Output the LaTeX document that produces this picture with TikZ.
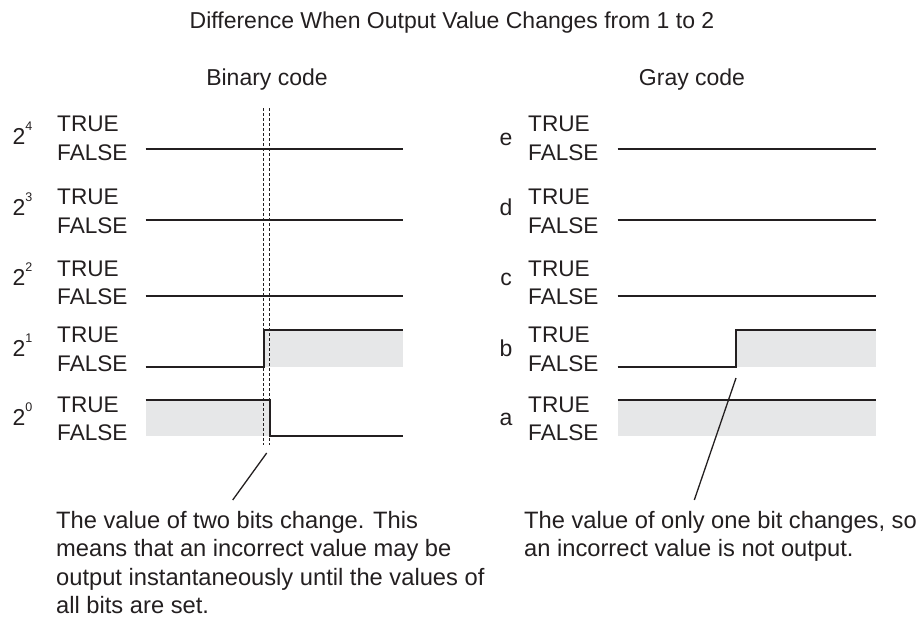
\documentclass[tikz,border=0pt]{standalone}
\usepackage{fontspec}
\setmainfont{Liberation Sans}
\definecolor{ink}{HTML}{231F20}
\definecolor{lgray}{HTML}{E6E7E8}
\newcommand{\supx}[1]{\raisebox{0.6em}{\fontsize{12.5}{12.5}\selectfont #1}}
\begin{document}
\begin{tikzpicture}[x=1pt,y=-1pt,
  sig/.style={line width=1.7pt, draw=ink, line join=miter},
  dashline/.style={line width=1.3pt, draw=ink, dash pattern=on 3pt off 2pt},
  pointer/.style={line width=1.3pt, draw=ink},
  tf/.style={anchor=base west, inner sep=0pt, font=\fontsize{22.6}{22.6}\selectfont, text=ink},
  rowlbl/.style={anchor=base, inner sep=0pt, font=\fontsize{23}{23}\selectfont, text=ink},
  captxt/.style={anchor=base west, inner sep=0pt, font=\fontsize{23.7}{23.7}\selectfont, text=ink},
  head/.style={anchor=base, inner sep=0pt, font=\fontsize{23}{23}\selectfont, text=ink}]
\useasboundingbox (0,0) rectangle (921,618);

% titles
\node[head] (title) at (452,28.3) {Difference When Output Value Changes from 1 to 2};
\node[head] (bin) at (267,85) {Binary code};
\node[head] (gray) at (692,85) {Gray code};

% ---------- Binary code ----------
\node[rowlbl, anchor=base west] (b4) at (12.5,144.5) {2\supx{4}};
\node[rowlbl, anchor=base west] (b3) at (12.5,215) {2\supx{3}};
\node[rowlbl, anchor=base west] (b2) at (12.5,285) {2\supx{2}};
\node[rowlbl, anchor=base west] (b1) at (12.5,356) {2\supx{1}};
\node[rowlbl, anchor=base west] (b0) at (12.5,425) {2\supx{0}};

\node[tf] (bt4) at (57,131) {TRUE};    \node[tf] (bf4) at (57,160) {FALSE};
\node[tf] (bt3) at (57,204)   {TRUE};  \node[tf] (bf3) at (57,233) {FALSE};
\node[tf] (bt2) at (57,276)   {TRUE};  \node[tf] (bf2) at (57,304) {FALSE};
\node[tf] (bt1) at (57,342.7) {TRUE};  \node[tf] (bf1) at (57,371.7) {FALSE};
\node[tf] (bt0) at (57,412.7) {TRUE};  \node[tf] (bf0) at (57,440) {FALSE};

\fill[lgray] (264.3,330) rectangle (403.3,366.7);
\fill[lgray] (145.7,400) rectangle (269.7,435.7);

\draw[sig] (145.7,149.3) -- (403.3,149.3);
\draw[sig] (145.7,220) -- (403.3,220);
\draw[sig] (145.7,295.7) -- (403.3,295.7);
\draw[sig] (145.7,366.7) -- (264.3,366.7) -- (264.3,330) -- (403.3,330);
\draw[sig] (145.7,400) -- (269.7,400) -- (269.7,435.7) -- (403.3,435.7);

\coordinate (d1t) at (263.7,108); \coordinate (d1b) at (263.7,445);
\coordinate (d2t) at (269.3,108); \coordinate (d2b) at (269.3,445);
\draw[dashline] (d1t) -- (d1b);
\draw[dashline] (d2t) -- (d2b);

\coordinate (pl1) at (266.7,453); \coordinate (pl2) at (232.7,500);
\draw[pointer] (pl1) -- (pl2);

\node[captxt] (c1) at (56,528.3) {The value of two bits change. This};
\node[captxt] (c2) at (56,556.8) {means that an incorrect value may be};
\node[captxt] (c3) at (56,585.3) {output instantaneously until the values of};
\node[captxt] (c4) at (56,613.8) {all bits are set.};

% ---------- Gray code ----------
\node[rowlbl] (ge) at (506,145) {e};
\node[rowlbl] (gd) at (506,215) {d};
\node[rowlbl] (gc) at (506,285) {c};
\node[rowlbl] (gb) at (506,356) {b};
\node[rowlbl] (ga) at (506,425) {a};

\node[tf] (gt4) at (528,131) {TRUE};    \node[tf] (gf4) at (528,160) {FALSE};
\node[tf] (gt3) at (528,204)   {TRUE};  \node[tf] (gf3) at (528,233) {FALSE};
\node[tf] (gt2) at (528,276)   {TRUE};  \node[tf] (gf2) at (528,304) {FALSE};
\node[tf] (gt1) at (528,342.7) {TRUE};  \node[tf] (gf1) at (528,371.7) {FALSE};
\node[tf] (gt0) at (528,412.7) {TRUE};  \node[tf] (gf0) at (528,440) {FALSE};

\fill[lgray] (736,330) rectangle (875.7,366.7);
\fill[lgray] (617.7,400) rectangle (875.7,435.7);

\draw[sig] (617.7,149.3) -- (875.7,149.3);
\draw[sig] (617.7,220) -- (875.7,220);
\draw[sig] (617.7,295.7) -- (875.7,295.7);
\draw[sig] (617.7,366.7) -- (736,366.7) -- (736,330) -- (875.7,330);
\draw[sig] (617.7,400) -- (875.7,400);

\coordinate (pr1) at (736,378); \coordinate (pr2) at (694.3,500);
\draw[pointer] (pr1) -- (pr2);

\node[captxt] (r1) at (524,528.3) {The value of only one bit changes, so};
\node[captxt] (r2) at (524,556.8) {an incorrect value is not output.};
\end{tikzpicture}
\end{document}
